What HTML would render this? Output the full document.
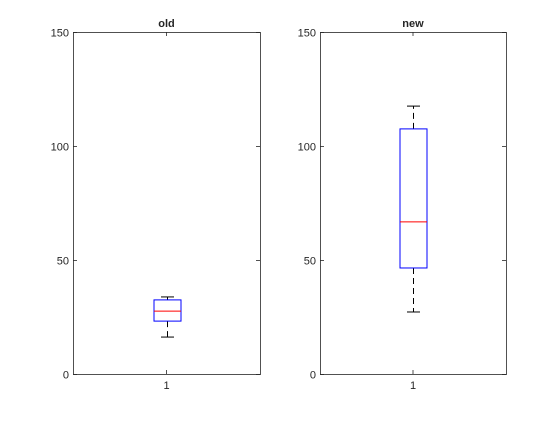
<!DOCTYPE html>
<html><head><meta charset="utf-8"><style>
body{margin:0;background:#fff;}
svg text{font-family:"Liberation Sans",sans-serif;font-size:11px;fill:#262626;}
</style></head><body>
<svg id="c" width="560" height="420"></svg>
<script>
const titles=["old","new"];
const q1=[23.2,46.5];
const med=[27.6,66.7];
const q3=[32.5,107.5];
const wLo=[16.2,27.2];
const wHi=[33.8,117.5];
const yTicks=[0,50,100,150];
const xTickLabels=["1"];
const panels=[{x0:73,x1:260},{x0:320,x1:506}];
const yTopPx=32,yBotPx=374,ymax=150;
const svg=document.getElementById('c');
const NS='http://www.w3.org/2000/svg';
function el(t,a,p){const e=document.createElementNS(NS,t);for(const k in a)e.setAttribute(k,a[k]);(p||svg).appendChild(e);return e;}
function Y(v){return yBotPx-(v/ymax)*(yBotPx-yTopPx);}
panels.forEach((p,i)=>{
  const g=el('g',{});
  
  
  const X=v=>p.x0+(v-0.5)*(p.x1-p.x0);
  const frame=el('rect',{x:p.x0+0.5,y:yTopPx+0.5,width:p.x1-p.x0,height:yBotPx-yTopPx,fill:'#fff',stroke:'#262626','stroke-width':0.8},g);
  
  
  yTicks.forEach(t=>{
    const y=Y(t)+0.5;
    el('line',{x1:p.x0,x2:p.x0+4,y1:y,y2:y,stroke:'#262626','stroke-width':0.8},g);
    el('line',{x1:p.x1-4,x2:p.x1,y1:y,y2:y,stroke:'#262626','stroke-width':0.8},g);
    const tx=el('text',{x:p.x0-4,y:y+4,'text-anchor':'end'},g);tx.textContent=t;
    
    
  });
  xTickLabels.forEach((l,j)=>{
    const x=X(j+1);
    el('line',{x1:x,x2:x,y1:yBotPx,y2:yBotPx-4,stroke:'#262626','stroke-width':0.8},g);
    el('line',{x1:x,x2:x,y1:yTopPx,y2:yTopPx+4,stroke:'#262626','stroke-width':0.8},g);
    const tx=el('text',{x:x,y:yBotPx+15,'text-anchor':'middle'},g);tx.textContent=l;
    
    
  });
  const tt=el('text',{x:(p.x0+p.x1)/2,y:yTopPx-5,'text-anchor':'middle','font-weight':'bold'},g);
  tt.textContent=titles[i];
  
  
  const cx=Math.round(X(1))+0.5, bw=13.5, cw=6.5;
  const wh=el('line',{x1:cx,x2:cx,y1:Y(q3[i]),y2:Y(wHi[i]),stroke:'#000','stroke-dasharray':'6,4'},g);
  
  const wl=el('line',{x1:cx,x2:cx,y1:Y(q1[i]),y2:Y(wLo[i]),stroke:'#000','stroke-dasharray':'6,4'},g);
  
  const c1=el('line',{x1:cx-cw,x2:cx+cw,y1:Y(wHi[i]),y2:Y(wHi[i]),stroke:'#000'},g);
  
  const c2=el('line',{x1:cx-cw,x2:cx+cw,y1:Y(wLo[i]),y2:Y(wLo[i]),stroke:'#000'},g);
  
  const b=el('rect',{x:cx-bw,y:Y(q3[i]),width:2*bw,height:Y(q1[i])-Y(q3[i]),fill:'#fff',stroke:'#0000ff'},g);
  
  const m=el('line',{x1:cx-bw,x2:cx+bw,y1:Y(med[i]),y2:Y(med[i]),stroke:'#ff0000'},g);
  
});
</script>
</body></html>
